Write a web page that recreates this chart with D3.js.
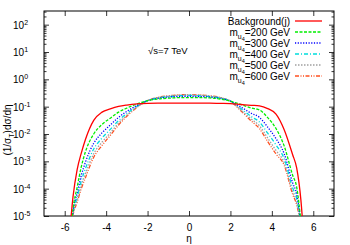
<!DOCTYPE html>
<html>
<head>
<meta charset="utf-8">
<script src="https://cdn.jsdelivr.net/npm/d3@7"></script>
<style>
body { margin: 0; background: #fff; }
svg { font-family: "Liberation Sans", Arial, sans-serif; }
</style>
</head>
<body>
<div id="chart"></div>
<script>
// eta grid, values are log10 of (1/sigma_T) dsigma/deta
var eta = [-5.8,-5.6,-5.4,-5.2,-5.0,-4.6,-4.2,-3.8,-3.4,-3.0,-2.5,-2.0,-1.5,-1.0,-0.5,0,
           0.5,1.0,1.5,2.0,2.5,3.0,3.4,3.8,4.2,4.6,5.0,5.2,5.4,5.6];

var bgLog   = [-6.0,-4.3,-3.3,-2.7,-2.2,-1.5,-1.2,-1.08,-0.99,-0.94,-0.9,-0.88,-0.87,-0.87,-0.87,-0.87,
               -0.87,-0.87,-0.88,-0.89,-0.92,-0.95,-0.97,-1.07,-1.27,-1.85,-2.75,-3.25,-4.4,-6.5];
var m200Log = [-6.5,-4.75,-3.95,-3.2,-2.65,-2.0,-1.65,-1.42,-1.2,-1.05,-0.9,-0.78,-0.72,-0.69,-0.67,-0.67,
               -0.67,-0.68,-0.72,-0.8,-0.92,-1.05,-1.12,-1.4,-1.8,-2.45,-3.5,-3.95,-5.2,-7];
var m300Log = [-6.7,-4.85,-4.17,-3.52,-3.03,-2.34,-1.96,-1.67,-1.39,-1.17,-0.95,-0.78,-0.70,-0.65,-0.63,-0.62,
               -0.63,-0.65,-0.70,-0.8,-1.01,-1.24,-1.39,-1.75,-2.17,-2.73,-3.78,-4.21,-5.28,-7];
var m400Log = [-6.8,-4.91,-4.31,-3.72,-3.27,-2.55,-2.15,-1.83,-1.51,-1.25,-0.98,-0.78,-0.68,-0.63,-0.60,-0.59,
               -0.60,-0.63,-0.68,-0.8,-1.07,-1.36,-1.56,-1.97,-2.40,-2.91,-3.96,-4.37,-5.33,-7];
var m500Log = [-6.9,-4.96,-4.42,-3.88,-3.46,-2.72,-2.30,-1.96,-1.60,-1.31,-1.0,-0.78,-0.67,-0.61,-0.58,-0.57,
               -0.58,-0.61,-0.67,-0.8,-1.12,-1.45,-1.70,-2.15,-2.60,-3.06,-4.1,-4.50,-5.37,-7];
var m600Log = [-7,-5.0,-4.5,-4.0,-3.6,-2.85,-2.42,-2.05,-1.67,-1.35,-1.02,-0.78,-0.66,-0.6,-0.57,-0.56,
               -0.57,-0.6,-0.66,-0.8,-1.15,-1.52,-1.8,-2.28,-2.73,-3.15,-4.2,-4.6,-5.4,-7];

var masses = ["200", "300", "400", "500", "600"];
var xTicks = [-6, -4, -2, 0, 2, 4, 6];
var yExps = [-5, -4, -3, -2, -1, 0, 1, 2];

var series = [
  {name: "bg",   vals: bgLog,   color: "#ff0000", dash: null},
  {name: "200",  vals: m200Log, color: "#00ee00", dash: "3,1.5"},
  {name: "300",  vals: m300Log, color: "#0000ff", dash: "1.2,1.5"},
  {name: "400",  vals: m400Log, color: "#00dddd", dash: "4,2,1,2"},
  {name: "500",  vals: m500Log, color: "#a0a0a0", dash: "1.5,1.5"},
  {name: "600",  vals: m600Log, color: "#ff5020", dash: "4,1.5,1,1.5,1,1.5"}
];

var W = 350, H = 245;
var margin = {top: 11, right: 16, bottom: 29, left: 44},
    width = W - margin.left - margin.right,
    height = H - margin.top - margin.bottom;

var svg = d3.select("#chart").append("svg")
    .attr("width", W).attr("height", H);

var g = svg.append("g")
    .attr("transform", "translate(" + margin.left + "," + margin.top + ")");

var x = d3.scaleLinear().domain([-7, 7]).range([0, width]);
var y = d3.scaleLog().domain([1e-5, Math.pow(10, 2.5)]).range([height, 0]);

g.append("clipPath").attr("id", "clip")
  .append("rect").attr("width", width).attr("height", height);

// minor log ticks 2..9
var minor = [];
yExps.forEach(function(e) {
  for (var k = 2; k <= 9; k++) {
    var v = k * Math.pow(10, e);
    if (v < y.domain()[1]) minor.push(v);
  }
});

function styleAxis(sel) {
  sel.select(".domain").remove();
  sel.selectAll("line").attr("stroke", "#000").attr("stroke-width", 0.8);
  sel.selectAll("text").attr("font-size", 10).attr("fill", "#000");
}

// bottom / top axis
g.append("g").attr("transform", "translate(0," + height + ")")
  .call(d3.axisBottom(x).tickValues(xTicks).tickSizeInner(-5).tickSizeOuter(0)
        .tickPadding(8).tickFormat(function(d) { return d; }))
  .call(styleAxis);
g.append("g")
  .call(d3.axisTop(x).tickValues(xTicks).tickSizeInner(-5).tickSizeOuter(0).tickFormat(""))
  .call(styleAxis);

// left / right axis
g.append("g")
  .call(d3.axisLeft(y).tickValues(yExps.map(function(e) { return Math.pow(10, e); }))
        .tickSizeInner(-5).tickSizeOuter(0).tickFormat(""))
  .call(styleAxis);
g.append("g")
  .call(d3.axisLeft(y).tickValues(minor).tickSizeInner(-2.5).tickSizeOuter(0).tickFormat(""))
  .call(styleAxis);
g.append("g").attr("transform", "translate(" + width + ",0)")
  .call(d3.axisRight(y).tickValues(yExps.map(function(e) { return Math.pow(10, e); }))
        .tickSizeInner(-5).tickSizeOuter(0).tickFormat(""))
  .call(styleAxis);
g.append("g").attr("transform", "translate(" + width + ",0)")
  .call(d3.axisRight(y).tickValues(minor).tickSizeInner(-2.5).tickSizeOuter(0).tickFormat(""))
  .call(styleAxis);

// y tick labels 10^e
var yl = g.append("g").selectAll("text").data(yExps).enter().append("text")
  .attr("x", -31)
  .attr("y", function(d) { return y(Math.pow(10, d)) + 4; })
  .attr("font-size", 10);
yl.append("tspan").text("10");
yl.append("tspan").attr("dy", -4).attr("font-size", 7).text(function(d) { return d; });

// frame
g.append("rect").attr("width", width).attr("height", height)
  .attr("fill", "none").attr("stroke", "#000").attr("stroke-width", 1);

var line = d3.line()
  .x(function(d, i) { return x(eta[i]); })
  .y(function(d) { return y(Math.pow(10, d)); })
  .curve(d3.curveMonotoneX);

g.append("g").attr("clip-path", "url(#clip)")
  .selectAll("path").data(series.slice().reverse()).enter().append("path")
  .attr("d", function(s) { return line(s.vals); })
  .attr("fill", "none")
  .attr("stroke", function(s) { return s.color; })
  .attr("stroke-width", 1.3)
  .attr("stroke-dasharray", function(s) { return s.dash; });

// legend
var lg = svg.append("g");
var rowY = [21, 32, 43, 54, 65, 76];
series.forEach(function(s, i) {
  var t = lg.append("text").attr("x", 290).attr("y", rowY[i] + 3.5)
    .attr("text-anchor", "end").attr("font-size", 10);
  if (i === 0) {
    t.text("Background(j)");
  } else {
    t.append("tspan").text("m");
    t.append("tspan").attr("dy", 3).attr("font-size", 7).text("u");
    t.append("tspan").attr("dy", 2).attr("font-size", 5.5).text("4");
    t.append("tspan").attr("dy", -5).text("=" + masses[i - 1] + " GeV");
  }
  lg.append("line").attr("x1", 295).attr("x2", 322)
    .attr("y1", rowY[i]).attr("y2", rowY[i])
    .attr("stroke", s.color).attr("stroke-width", 1.3)
    .attr("stroke-dasharray", s.dash);
});

// annotation
svg.append("text").attr("x", 148).attr("y", 54).attr("font-size", 9.5).text("\u221As=7 TeV");

// axis titles
svg.append("text").attr("x", 189).attr("y", 242).attr("text-anchor", "middle")
  .attr("font-size", 10).text("\u03B7");
var yt = svg.append("text").attr("transform", "translate(11,130) rotate(-90)")
  .attr("text-anchor", "middle").attr("font-size", 10);
yt.append("tspan").text("(1/\u03C3");
yt.append("tspan").attr("dy", 2.5).attr("font-size", 7).text("T");
yt.append("tspan").attr("dy", -2.5).text(")d\u03C3/d\u03B7");
</script>
</body>
</html>
